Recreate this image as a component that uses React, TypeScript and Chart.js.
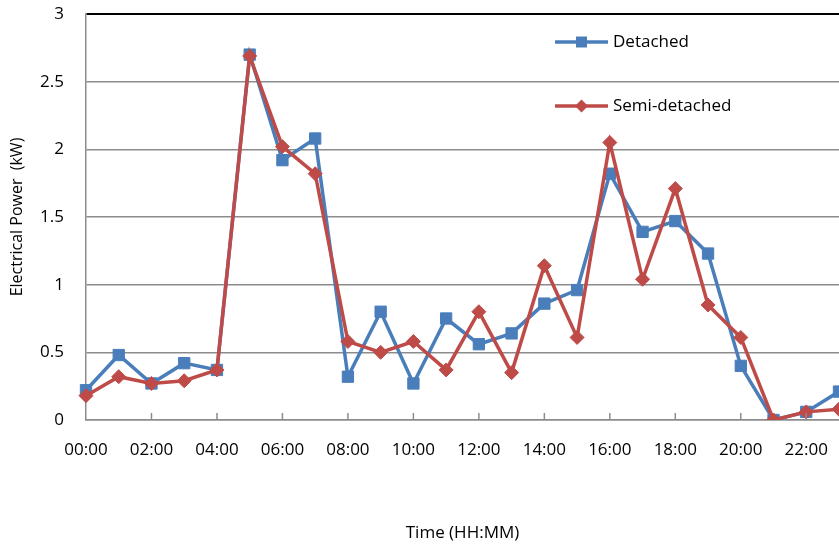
import React, { useEffect, useRef } from "react";
import { Chart, registerables } from "chart.js";

Chart.register(...registerables);

const hours = [
  "00:00", "01:00", "02:00", "03:00", "04:00", "05:00", "06:00", "07:00",
  "08:00", "09:00", "10:00", "11:00", "12:00", "13:00", "14:00", "15:00",
  "16:00", "17:00", "18:00", "19:00", "20:00", "21:00", "22:00", "23:00",
];

const detached = [
  0.22, 0.48, 0.27, 0.42, 0.37, 2.7, 1.92, 2.08, 0.32, 0.8, 0.27, 0.75,
  0.56, 0.64, 0.86, 0.96, 1.82, 1.39, 1.47, 1.23, 0.4, 0.0, 0.06, 0.21,
];

const semiDetached = [
  0.18, 0.32, 0.27, 0.29, 0.37, 2.69, 2.02, 1.82, 0.58, 0.5, 0.58, 0.37,
  0.8, 0.35, 1.14, 0.61, 2.05, 1.04, 1.71, 0.85, 0.61, 0.0, 0.06, 0.08,
];

const yTicks = [0, 0.5, 1, 1.5, 2, 2.5, 3];

const BLUE = "#4A7EBB";
const RED = "#BE4B48";
const FONT = "'Open Sans', 'DejaVu Sans', sans-serif";

const innerTicks = {
  id: "innerTicks",
  afterDatasetsDraw(chart: any) {
    const x = chart.scales.x;
    const { ctx, chartArea } = chart;
    ctx.save();
    ctx.strokeStyle = "#8c8c8c";
    ctx.lineWidth = 1.5;
    hours.forEach((_, i) => {
      if (i % 2 !== 0 || i === 0) return;
      const px = x.getPixelForValue(i);
      ctx.beginPath();
      ctx.moveTo(px, chartArea.bottom);
      ctx.lineTo(px, chartArea.bottom - 7);
      ctx.stroke();
    });
    ctx.restore();
  },
};

const insideLegend = {
  id: "insideLegend",
  afterDraw(chart: any) {
    const { ctx, chartArea } = chart;
    const items = [
      { label: "Detached", color: BLUE, style: "rect", dy: 28 },
      { label: "Semi-detached", color: RED, style: "rectRot", dy: 92 },
    ];
    ctx.save();
    items.forEach((it) => {
      const x0 = chartArea.left + 469;
      const x1 = chartArea.left + 522;
      const y = chartArea.top + it.dy;
      ctx.strokeStyle = it.color;
      ctx.lineWidth = 3.5;
      ctx.beginPath();
      ctx.moveTo(x0, y);
      ctx.lineTo(x1, y);
      ctx.stroke();
      ctx.fillStyle = it.color;
      const cx = (x0 + x1) / 2;
      ctx.beginPath();
      if (it.style === "rect") {
        ctx.rect(cx - 5.5, y - 5.5, 11, 11);
      } else {
        ctx.moveTo(cx, y - 6.5);
        ctx.lineTo(cx + 6.5, y);
        ctx.lineTo(cx, y + 6.5);
        ctx.lineTo(cx - 6.5, y);
        ctx.closePath();
      }
      ctx.fill();
      ctx.fillStyle = "#000";
      ctx.font = `17px ${FONT}`;
      ctx.textBaseline = "middle";
      ctx.textAlign = "left";
      ctx.fillText(it.label, x1 + 5, y);
    });
    ctx.restore();
  },
};

export default function App() {
  const ref = useRef<HTMLCanvasElement | null>(null);

  useEffect(() => {
    document.body.style.margin = "0";
    if (!ref.current) return;
    const chart = new Chart(ref.current, {
      type: "line",
      data: {
        labels: hours,
        datasets: [
          {
            label: "Detached",
            data: detached,
            borderColor: BLUE,
            backgroundColor: BLUE,
            borderWidth: 3.5,
            pointStyle: "rect",
            pointRadius: 8,
            pointBorderWidth: 1,
            pointBackgroundColor: BLUE,
            pointBorderColor: BLUE,
            tension: 0,
            order: 1,
          },
          {
            label: "Semi-detached",
            data: semiDetached,
            borderColor: RED,
            backgroundColor: RED,
            borderWidth: 3.5,
            pointStyle: "rectRot",
            pointRadius: 7,
            pointBorderWidth: 1,
            pointBackgroundColor: RED,
            pointBorderColor: RED,
            tension: 0,
            order: 0,
          },
        ],
      },
      options: {
        animation: false,
        responsive: false,
        maintainAspectRatio: false,
        layout: { autoPadding: false, padding: { top: 14, right: 0, left: 0, bottom: 0 } },
        plugins: {
          legend: { display: false },
          tooltip: { enabled: false },
        },
        scales: {
          x: {
            type: "category",
            offset: false,
            grid: { display: false, drawTicks: false },
            border: { display: true, color: "#8c8c8c", width: 1.5 },
            ticks: {
              autoSkip: false,
              maxRotation: 0,
              minRotation: 0,
              padding: 20,
              color: "#000",
              font: { family: FONT, size: 17 },
              callback: (_v: any, i: number) => (i % 2 === 0 && i < 23 ? hours[i] : null),
            },
            title: {
              display: true,
              text: "Time (HH:MM)",
              color: "#000",
              font: { family: FONT, size: 17 },
              padding: { top: 0, bottom: 3 },
            },
            afterFit: (s: any) => {
              s.height = 126;
              s.paddingLeft = 0;
              s.paddingRight = 0;
            },
          },
          y: {
            min: 0,
            max: 3,
            afterBuildTicks: (s: any) => {
              s.ticks = yTicks.map((v) => ({ value: v }));
            },
            grid: {
              drawTicks: false,
              color: (c: any) => (c.tick && c.tick.value === 3 ? "#000" : "#8c8c8c"),
              lineWidth: (c: any) => (c.tick && c.tick.value === 3 ? 2 : 1.5),
            },
            border: { display: true, color: "#8c8c8c", width: 1.5 },
            ticks: {
              padding: 22,
              color: "#000",
              font: { family: FONT, size: 17 },
              callback: (v: any) => String(v),
            },
            title: {
              display: true,
              text: "Electrical Power  (kW)",
              color: "#000",
              font: { family: FONT, size: 16 },
              padding: { top: 8, bottom: 0 },
            },
            afterFit: (s: any) => {
              s.width = 86;
              s.paddingTop = 0;
              s.paddingBottom = 0;
            },
          },
        },
      },
      plugins: [innerTicks, insideLegend],
    });
    return () => chart.destroy();
  }, []);

  return (
    <div style={{ width: 839, height: 546 }}>
      <canvas ref={ref} width={839} height={546} style={{ display: "block" }} />
    </div>
  );
}
